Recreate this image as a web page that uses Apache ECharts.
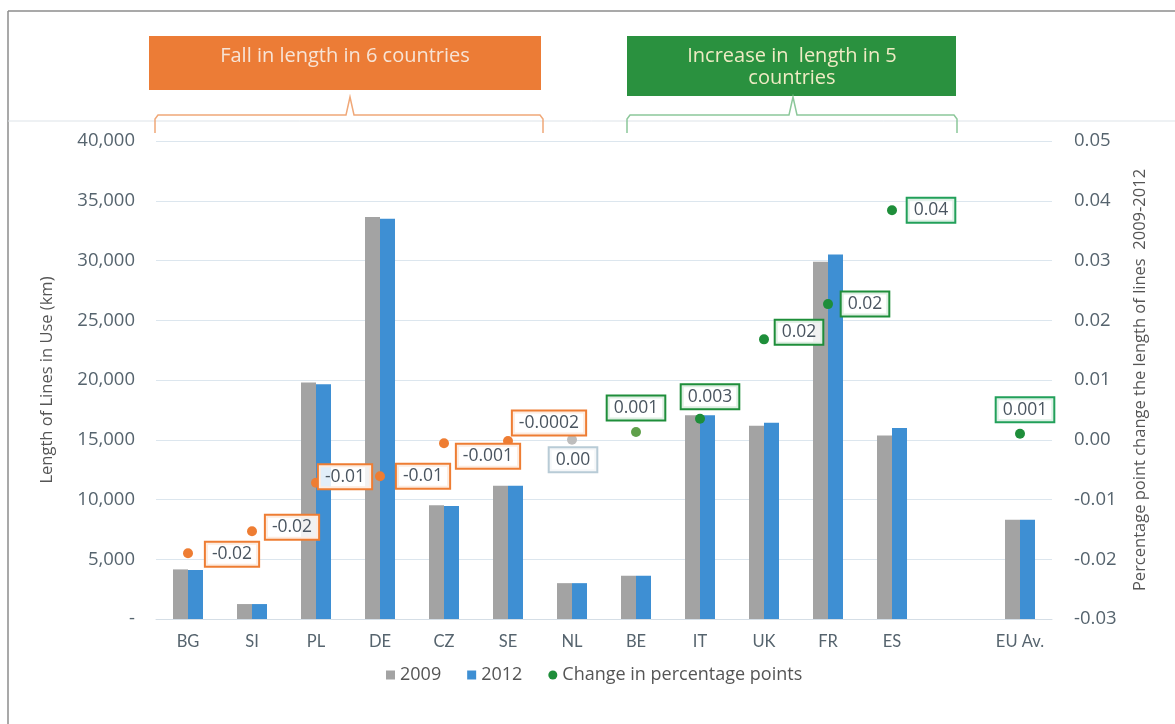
<!DOCTYPE html>
<html>
<head>
<meta charset="utf-8">
<script src="https://cdn.jsdelivr.net/npm/echarts@6/dist/echarts.min.js"></script>
<style>
html,body{margin:0;padding:0;background:#fff;}
#chart{width:1175px;height:724px;}
</style>
</head>
<body>
<div id="chart"></div>
<script>
const categories = ['BG','SI','PL','DE','CZ','SE','NL','BE','IT','UK','FR','ES','','EU Av.'];
const len2009 = [4150, 1250, 19800, 33650, 9520, 11150, 3000, 3620, 17050, 16180, 29900, 15350, null, 8300];
const len2012 = [4100, 1250, 19650, 33500, 9450, 11150, 3000, 3620, 17050, 16430, 30500, 15980, null, 8300];
const changePP = [-0.019, -0.0153, -0.0072, -0.0061, -0.0006, -0.0002, 0.0, 0.0013, 0.0035, 0.0168, 0.0227, 0.0384, null, 0.001];
const changeLabels = ['-0.02','-0.02','-0.01','-0.01','-0.001','-0.0002','0.00','0.001','0.003','0.02','0.02','0.04','','0.001'];
const leftTicks = ['-','5,000','10,000','15,000','20,000','25,000','30,000','35,000','40,000'];

// styling (not data)
const ORANGE = '#EE7D33', GREEN = '#1E8E3A', GRAY = '#A3A3A3', BLUE = '#3E8FD3';
const pointColors = [ORANGE,ORANGE,ORANGE,ORANGE,ORANGE,ORANGE,'#BDBDBD','#5FA04A',GREEN,GREEN,GREEN,GREEN,GREEN,GREEN];
const labelBorders = [ORANGE,ORANGE,ORANGE,ORANGE,ORANGE,ORANGE,'#B8CBD6',GREEN,GREEN,GREEN,GREEN,'#22A05A','#22A05A','#22A05A'];
const labelOffsets = [[44,1],[40,-4],[29,-6],[43,0],[44,13],[41,-18],[1,20],[0,-24],[10,-22],[35,-7],[37,0],[39,0],[0,0],[5,-24]];

const FONT = '"Open Sans", "Noto Sans", sans-serif';
const XFONT = 'Lato, "Noto Sans", sans-serif';
const TXT = '#56646E';

const chart = echarts.init(document.getElementById('chart'));

const scatterData = changePP.map((v, i) => v === null ? null : ({
  value: v,
  itemStyle: { color: pointColors[i] },
  label: { offset: labelOffsets[i], borderColor: labelBorders[i] }
}));

chart.setOption({
  animation: false,
  textStyle: { fontFamily: FONT },
  grid: { left: 156, right: 123, top: 141, bottom: 105 },
  legend: {
    bottom: 35, left: 381,
    itemGap: 26, itemWidth: 9, itemHeight: 9,
    textStyle: { color: '#555', fontSize: 18, fontFamily: FONT },
    data: [
      { name: '2009', icon: 'rect' },
      { name: '2012', icon: 'rect' },
      { name: 'Change in percentage points', icon: 'circle', itemStyle: { color: GREEN } }
    ]
  },
  xAxis: {
    type: 'category',
    data: categories,
    axisLine: { lineStyle: { color: '#D5DEE6' } },
    axisTick: { show: false },
    axisLabel: { color: TXT, fontSize: 16.5, margin: 14, fontFamily: XFONT }
  },
  yAxis: [
    {
      type: 'value', min: 0, max: 40000, interval: 5000,
      name: 'Length of Lines in Use (km)',
      nameLocation: 'middle', nameGap: 100, nameRotate: 90,
      nameTextStyle: { color: '#555', fontSize: 16.5, fontFamily: FONT },
      axisLine: { show: false }, axisTick: { show: false },
      axisLabel: {
        color: TXT, fontSize: 18.5, margin: 21,
        formatter: (v) => leftTicks[Math.round(v / 5000)]
      },
      splitLine: { lineStyle: { color: '#DCE6EE' } }
    },
    {
      type: 'value', min: -0.03, max: 0.05, interval: 0.01,
      name: 'Percentage point change the length of lines  2009-2012',
      nameLocation: 'middle', nameGap: 80, nameRotate: 90,
      nameTextStyle: { color: '#555', fontSize: 16.5, fontFamily: FONT },
      axisLine: { show: false }, axisTick: { show: false },
      axisLabel: {
        color: TXT, fontSize: 18.5, margin: 22, align: 'left',
        formatter: (v) => v.toFixed(2)
      },
      splitLine: { show: false }
    }
  ],
  series: [
    {
      name: '2009', type: 'bar', data: len2009,
      barWidth: 15, barGap: '0%',
      itemStyle: { color: GRAY }
    },
    {
      name: '2012', type: 'bar', data: len2012,
      barWidth: 15,
      itemStyle: { color: BLUE }
    },
    {
      name: 'Change in percentage points', type: 'scatter', yAxisIndex: 1,
      symbolSize: 10,
      itemStyle: { color: GREEN, opacity: 1 },
      data: scatterData,
      z: 5,
      label: {
        show: true, position: 'inside',
        formatter: (p) => changeLabels[p.dataIndex],
        color: '#4A5560', fontSize: 17.5, fontFamily: FONT,
        backgroundColor: 'rgba(255,255,255,0.85)',
        borderWidth: 2, padding: [3, 6, 2, 6]
      }
    }
  ],
  graphic: [
    { type: 'line', shape: { x1: 8, y1: 11, x2: 1175, y2: 11 }, style: { stroke: '#8C8C8C', lineWidth: 1.5 } },
    { type: 'line', shape: { x1: 8, y1: 11, x2: 8, y2: 724 }, style: { stroke: '#8C8C8C', lineWidth: 1.5 } },
    { type: 'line', shape: { x1: 8, y1: 121, x2: 1175, y2: 121 }, style: { stroke: '#DDE3E8', lineWidth: 1 } },
    { type: 'rect', shape: { x: 149, y: 36, width: 392, height: 54 }, style: { fill: '#EC7C36' } },
    { type: 'text', x: 345, y: 56, style: { text: 'Fall in length in 6 countries', fill: '#F7E4D6', font: '20px ' + FONT, align: 'center', verticalAlign: 'middle' } },
    { type: 'polyline', shape: { points: [[155,133],[155,119],[158,115],[346,115],[350,97],[354,115],[540,115],[543,119],[543,133]] }, style: { stroke: '#F0A878', lineWidth: 1.5, fill: null } },
    { type: 'rect', shape: { x: 627, y: 36, width: 329, height: 60 }, style: { fill: '#2A913F' } },
    { type: 'text', x: 792, y: 67, style: { text: 'Increase in  length in 5\ncountries', fill: '#EFEBC4', font: '20px ' + FONT, align: 'center', verticalAlign: 'middle', lineHeight: 22 } },
    { type: 'polyline', shape: { points: [[627,133],[627,119],[630,115],[789,115],[793,97],[797,115],[954,115],[957,119],[957,133]] }, style: { stroke: '#8CC79A', lineWidth: 1.5, fill: null } }
  ]
});
</script>
</body>
</html>
